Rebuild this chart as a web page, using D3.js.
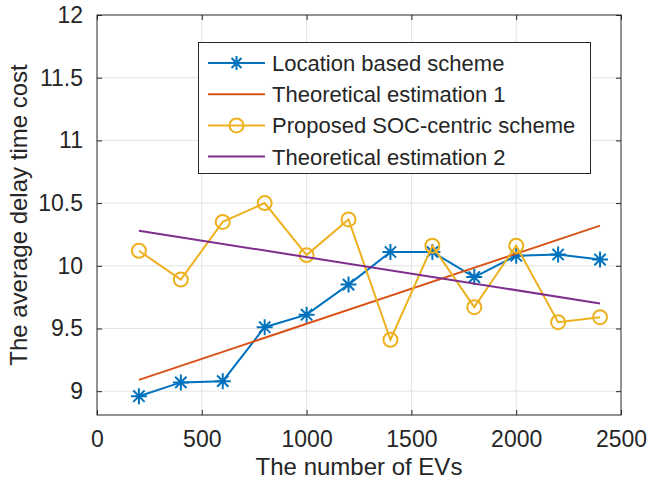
<!DOCTYPE html>
<html>
<head>
<meta charset="utf-8">
<style>
body { margin: 0; background: white; }
text { font-family: "Liberation Sans", Arial, sans-serif; fill: #262626; }
</style>
<script src="https://d3js.org/d3.v7.min.js" charset="utf-8"></script>
</head>
<body>
<div id="chart"></div>
<script>
var evCounts = [200, 400, 600, 800, 1000, 1200, 1400, 1600, 1800, 2000, 2200, 2400];
var locationBased = [8.96, 9.07, 9.08, 9.51, 9.61, 9.85, 10.11, 10.11, 9.91, 10.08, 10.09, 10.05];
var proposedSoc = [10.12, 9.89, 10.35, 10.50, 10.085, 10.37, 9.41, 10.16, 9.67, 10.16, 9.55, 9.59];
var theory1 = [[200, 9.09], [2400, 10.32]];
var theory2 = [[200, 10.28], [2400, 9.70]];
var xTicks = [0, 500, 1000, 1500, 2000, 2500];
var yTicks = [9, 9.5, 10, 10.5, 11, 11.5, 12];
var legendNames = ["Location based scheme", "Theoretical estimation 1",
                   "Proposed SOC-centric scheme", "Theoretical estimation 2"];
var colors = ["#0072BD", "#D95319", "#EDB120", "#7E2F8E"];

var W = 649, H = 495;
var margin = {top: 15, right: 28, bottom: 80, left: 97};
var svg = d3.select("#chart").append("svg")
    .attr("width", W).attr("height", H);

var x = d3.scaleLinear().domain([0, 2500]).range([margin.left, W - margin.right]);
var y = d3.scaleLinear().domain([8.81, 12]).range([H - margin.bottom, margin.top]);

var x0 = x.range()[0], x1 = x.range()[1], y0 = y.range()[0], y1 = y.range()[1];

// grid
svg.append("g").selectAll("line").data(xTicks.slice(1, -1)).enter().append("line")
    .attr("x1", d => x(d)).attr("x2", d => x(d)).attr("y1", y0).attr("y2", y1)
    .attr("stroke", "#e3e3e3").attr("stroke-width", 1);
svg.append("g").selectAll("line").data(yTicks.slice(0, -1)).enter().append("line")
    .attr("x1", x0).attr("x2", x1).attr("y1", d => y(d)).attr("y2", d => y(d))
    .attr("stroke", "#e3e3e3").attr("stroke-width", 1);

// axes (ticks inside)
var tickLen = 5;
var xb = svg.append("g").attr("transform", "translate(0," + y0 + ")")
    .call(d3.axisBottom(x).tickValues(xTicks).tickSizeInner(-tickLen).tickSizeOuter(0).tickPadding(16).tickFormat(d3.format("d")));
var xt = svg.append("g").attr("transform", "translate(0," + y1 + ")")
    .call(d3.axisTop(x).tickValues(xTicks).tickSizeInner(-tickLen).tickSizeOuter(0).tickFormat(""));
var yl = svg.append("g").attr("transform", "translate(" + x0 + ",0)")
    .call(d3.axisLeft(y).tickValues(yTicks).tickSizeInner(-tickLen).tickSizeOuter(0).tickPadding(14).tickFormat(d3.format("")));
var yr = svg.append("g").attr("transform", "translate(" + x1 + ",0)")
    .call(d3.axisRight(y).tickValues(yTicks).tickSizeInner(-tickLen).tickSizeOuter(0).tickFormat(""));
[xb, xt, yl, yr].forEach(function(g) {
    g.select(".domain").remove();
    g.selectAll("line").attr("stroke", "#262626");
    g.selectAll("text").style("font-size", "23px").attr("fill", "#262626")
        .style("font-family", '"Liberation Sans", Arial, sans-serif');
});
svg.append("rect").attr("x", x0).attr("y", y1).attr("width", x1 - x0).attr("height", y0 - y1)
    .attr("fill", "none").attr("stroke", "#262626").attr("stroke-width", 1);

// axis labels
svg.append("text").attr("x", (x0 + x1) / 2).attr("y", 475).attr("text-anchor", "middle")
    .style("font-size", "24px").text("The number of EVs");
svg.append("text").attr("transform", "translate(27," + ((y0 + y1) / 2) + ") rotate(-90)")
    .attr("text-anchor", "middle").style("font-size", "24px").text("The average delay time cost");

var line = d3.line().x(d => x(d[0])).y(d => y(d[1]));

function asterisk(g, cx, cy, r, color) {
    var d = r * Math.SQRT1_2;
    var p = "M" + (cx - r) + "," + cy + "h" + (2 * r) +
            "M" + cx + "," + (cy - r) + "v" + (2 * r) +
            "M" + (cx - d) + "," + (cy - d) + "l" + (2 * d) + "," + (2 * d) +
            "M" + (cx - d) + "," + (cy + d) + "l" + (2 * d) + "," + (-2 * d);
    g.append("path").attr("d", p).attr("stroke", color).attr("stroke-width", 2).attr("fill", "none");
}

var locPts = evCounts.map((v, i) => [v, locationBased[i]]);
var socPts = evCounts.map((v, i) => [v, proposedSoc[i]]);

var plot = svg.append("g");
plot.append("path").datum(locPts).attr("d", line)
    .attr("fill", "none").attr("stroke", colors[0]).attr("stroke-width", 2);
locPts.forEach(p => asterisk(plot, x(p[0]), y(p[1]), 8, colors[0]));
plot.append("path").datum(theory1).attr("d", line)
    .attr("fill", "none").attr("stroke", colors[1]).attr("stroke-width", 2);
plot.append("path").datum(socPts).attr("d", line)
    .attr("fill", "none").attr("stroke", colors[2]).attr("stroke-width", 2);
plot.selectAll("circle").data(socPts).enter().append("circle")
    .attr("cx", d => x(d[0])).attr("cy", d => y(d[1])).attr("r", 7)
    .attr("fill", "none").attr("stroke", colors[2]).attr("stroke-width", 2);
plot.append("path").datum(theory2).attr("d", line)
    .attr("fill", "none").attr("stroke", colors[3]).attr("stroke-width", 2);

// legend
var lg = svg.append("g");
lg.append("rect").attr("x", 198.5).attr("y", 42.5).attr("width", 392).attr("height", 131)
    .attr("fill", "white").attr("stroke", "#262626").attr("stroke-width", 1);
legendNames.forEach(function(name, i) {
    var ry = 63 + i * 31.2;
    lg.append("line").attr("x1", 208).attr("x2", 265).attr("y1", ry).attr("y2", ry)
        .attr("stroke", colors[i]).attr("stroke-width", 2);
    if (i === 0) asterisk(lg, 236.5, ry, 7, colors[0]);
    if (i === 2) lg.append("circle").attr("cx", 236.5).attr("cy", ry).attr("r", 7)
        .attr("fill", "none").attr("stroke", colors[2]).attr("stroke-width", 2);
    lg.append("text").attr("x", 272).attr("y", ry + 8).style("font-size", "22px").text(name);
});
</script>
</body>
</html>
